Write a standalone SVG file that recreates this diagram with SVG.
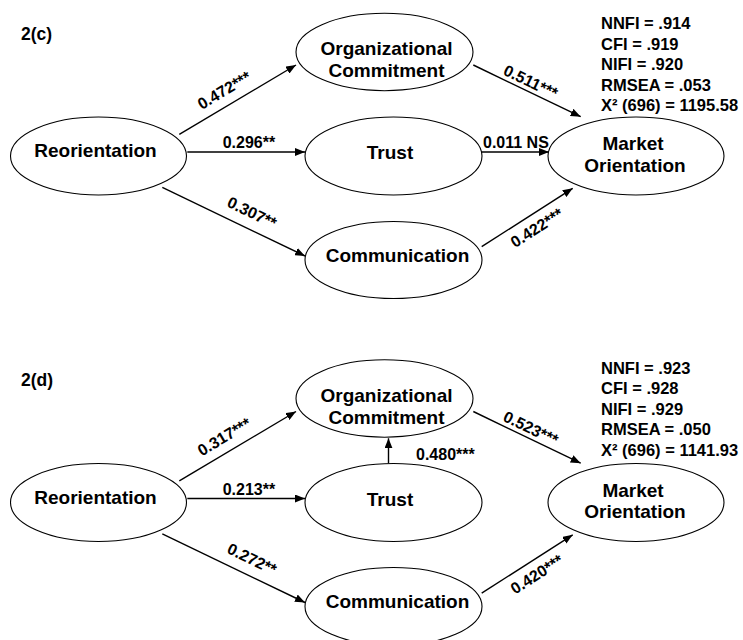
<svg xmlns="http://www.w3.org/2000/svg" width="743" height="640" viewBox="0 0 743 640">
  <style>
    text { font-family: "Liberation Sans", Arial, sans-serif; font-weight: bold; fill: #000; }
    .node { font-size: 19px; text-anchor: middle; }
    .lbl { font-size: 16px; }
    .mid { text-anchor: middle; }
    .stat { font-size: 16.5px; }
    .panel { font-size: 17.5px; }
    ellipse { fill: #fff; stroke: #000; stroke-width: 1.1; }
    .edge { stroke: #000; stroke-width: 1.4; fill: none; marker-end: url(#arrow); }
  </style>
  <defs>
    <marker id="arrow" markerUnits="userSpaceOnUse" markerWidth="10" markerHeight="8" refX="10" refY="4" orient="auto">
      <path d="M0,0 L10,4 L0,8 z" fill="#000"/>
    </marker>
  </defs>
  <rect width="743" height="640" fill="#fff"/>

  <!-- Panel 2(c) -->
  <text class="panel" x="21" y="39.5">2(c)</text>

  <g id="c-connectors">
    <line class="edge" x1="179.3" y1="134.3" x2="296" y2="65"/>
    <line class="edge" x1="187.3" y1="152" x2="305" y2="152"/>
    <line class="edge" x1="162.3" y1="187.3" x2="305" y2="256"/>
    <line class="edge" x1="473.3" y1="65" x2="580.7" y2="116.7"/>
    <line class="edge" x1="481.7" y1="152" x2="549" y2="152"/>
    <line class="edge" x1="481.7" y1="246.7" x2="572.7" y2="188.3"/>
    <text class="lbl mid" transform="translate(227,95) rotate(-30.5)">0.472***</text>
    <text class="lbl" x="222.7" y="148">0.296**</text>
    <text class="lbl mid" transform="translate(249.6,217.5) rotate(25.8)">0.307**</text>
    <text class="lbl mid" transform="translate(528.4,86.7) rotate(25.7)">0.511***</text>
    <text class="lbl" x="483" y="148">0.011 NS</text>
    <text class="lbl mid" transform="translate(539.7,232.4) rotate(-32.7)">0.422***</text>
  </g>

  <g id="c-reorientation">
    <ellipse cx="98.5" cy="156" rx="88" ry="39"/>
    <text class="node" x="95.5" y="157">Reorientation</text>
  </g>
  <g id="c-commitment">
    <ellipse cx="384.5" cy="52" rx="88.5" ry="38.7"/>
    <text class="node" x="386.5" y="55">Organizational</text>
    <text class="node" x="386.5" y="77">Commitment</text>
  </g>
  <g id="c-trust">
    <ellipse cx="393.5" cy="156" rx="88.5" ry="39"/>
    <text class="node" x="390" y="159">Trust</text>
  </g>
  <g id="c-communication">
    <ellipse cx="393.5" cy="260" rx="88.5" ry="38.5"/>
    <text class="node" x="397.5" y="261.5">Communication</text>
  </g>
  <g id="c-market">
    <ellipse cx="636" cy="156" rx="88" ry="39"/>
    <text class="node" x="633" y="150">Market</text>
    <text class="node" x="635" y="171.7">Orientation</text>
  </g>

  <g id="c-fit">
    <text class="stat" x="601" y="28.5">NNFI = .914</text>
    <text class="stat" x="601" y="49.5">CFI = .919</text>
    <text class="stat" x="601" y="70">NIFI = .920</text>
    <text class="stat" x="601" y="90.5">RMSEA = .053</text>
    <text class="stat" x="601" y="111">X² (696) = 1195.58</text>
  </g>

  <!-- Panel 2(d) -->
  <text class="panel" x="21" y="386">2(d)</text>

  <g id="d-connectors">
    <line class="edge" x1="179.3" y1="480.8" x2="296" y2="411.5"/>
    <line class="edge" x1="187.3" y1="498.5" x2="305" y2="498.5"/>
    <line class="edge" x1="162.3" y1="533.8" x2="305" y2="602.5"/>
    <line class="edge" x1="473.3" y1="411.5" x2="580.7" y2="463.2"/>
    <line class="edge" x1="481.7" y1="593.2" x2="572.7" y2="534.8"/>
    <line class="edge" x1="388.5" y1="463.3" x2="388.5" y2="438.3"/>
    <text class="lbl mid" transform="translate(227,441.5) rotate(-30.5)">0.317***</text>
    <text class="lbl" x="222.7" y="495">0.213**</text>
    <text class="lbl mid" transform="translate(249.6,564) rotate(25.8)">0.272**</text>
    <text class="lbl mid" transform="translate(528.4,433.2) rotate(25.7)">0.523***</text>
    <text class="lbl" x="416" y="460">0.480***</text>
    <text class="lbl mid" transform="translate(539.7,579) rotate(-32.7)">0.420***</text>
  </g>

  <g id="d-reorientation">
    <ellipse cx="98.5" cy="502.5" rx="88" ry="39"/>
    <text class="node" x="95.5" y="503.5">Reorientation</text>
  </g>
  <g id="d-commitment">
    <ellipse cx="384.5" cy="398.5" rx="88.5" ry="38.7"/>
    <text class="node" x="386.5" y="401.5">Organizational</text>
    <text class="node" x="386.5" y="423.5">Commitment</text>
  </g>
  <g id="d-trust">
    <ellipse cx="393.5" cy="502.5" rx="88.5" ry="39"/>
    <text class="node" x="390" y="505.5">Trust</text>
  </g>
  <g id="d-communication">
    <ellipse cx="393.5" cy="606.5" rx="88.5" ry="39"/>
    <text class="node" x="397.5" y="608">Communication</text>
  </g>
  <g id="d-market">
    <ellipse cx="636" cy="502.5" rx="88" ry="39"/>
    <text class="node" x="633" y="496.5">Market</text>
    <text class="node" x="635" y="518">Orientation</text>
  </g>

  <g id="d-fit">
    <text class="stat" x="601" y="373.5">NNFI = .923</text>
    <text class="stat" x="601" y="394">CFI = .928</text>
    <text class="stat" x="601" y="415">NIFI = .929</text>
    <text class="stat" x="601" y="435">RMSEA = .050</text>
    <text class="stat" x="601" y="455.5">X² (696) = 1141.93</text>
  </g>
</svg>
